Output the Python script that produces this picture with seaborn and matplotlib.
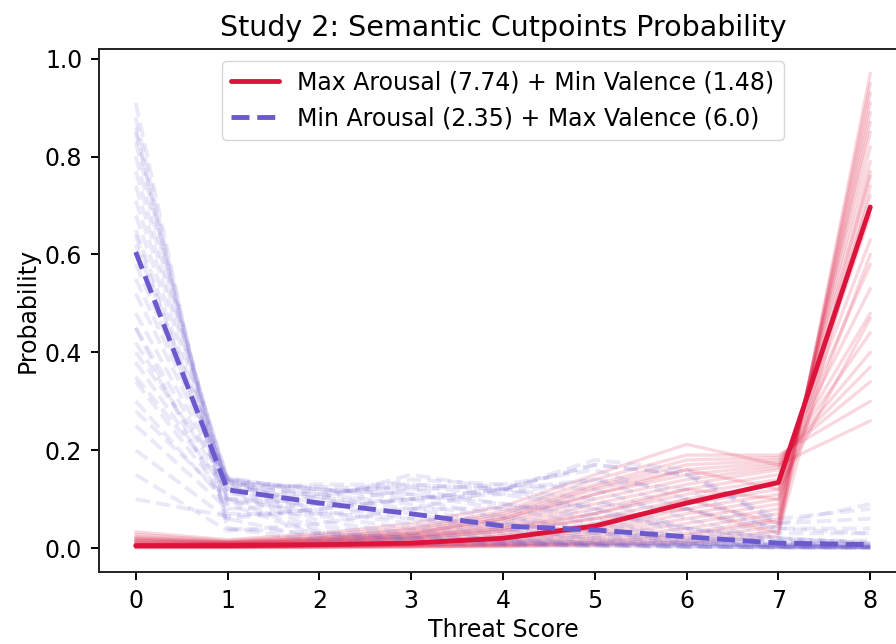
import pandas as pd
import matplotlib
matplotlib.use('Agg')
import matplotlib.pyplot as plt
import seaborn as sns

scores = [0, 1, 2, 3, 4, 5, 6, 7, 8]

# posterior mean curves
red_mean = [0.005, 0.005, 0.007, 0.010, 0.020, 0.045, 0.092, 0.134, 0.697]
blue_mean = [0.605, 0.119, 0.092, 0.070, 0.045, 0.037, 0.023, 0.010, 0.007]

red_label = 'Max Arousal (7.74) + Min Valence (1.48)'
blue_label = 'Min Arousal (2.35) + Max Valence (6.0)'

# individual posterior draws (faint lines)
red_draws = [
    [0.001, 0.001, 0.001, 0.002, 0.003, 0.005, 0.008, 0.025, 0.97],
    [0.001, 0.001, 0.002, 0.003, 0.004, 0.007, 0.012, 0.035, 0.95],
    [0.002, 0.002, 0.002, 0.003, 0.005, 0.009, 0.018, 0.045, 0.93],
    [0.002, 0.002, 0.003, 0.004, 0.006, 0.012, 0.025, 0.055, 0.91],
    [0.002, 0.002, 0.003, 0.005, 0.008, 0.015, 0.03, 0.06, 0.89],
    [0.003, 0.003, 0.004, 0.006, 0.01, 0.02, 0.04, 0.07, 0.87],
    [0.003, 0.003, 0.005, 0.007, 0.012, 0.025, 0.05, 0.08, 0.85],
    [0.004, 0.004, 0.005, 0.008, 0.015, 0.03, 0.06, 0.09, 0.82],
    [0.004, 0.004, 0.006, 0.01, 0.018, 0.035, 0.07, 0.10, 0.79],
    [0.005, 0.004, 0.006, 0.01, 0.02, 0.04, 0.10, 0.05, 0.77],
    [0.005, 0.005, 0.007, 0.01, 0.02, 0.04, 0.08, 0.11, 0.76],
    [0.01, 0.008, 0.012, 0.02, 0.035, 0.06, 0.08, 0.03, 0.74],
    [0.006, 0.005, 0.008, 0.012, 0.025, 0.05, 0.09, 0.12, 0.72],
    [0.007, 0.006, 0.009, 0.015, 0.03, 0.06, 0.10, 0.13, 0.68],
    [0.008, 0.006, 0.01, 0.018, 0.035, 0.07, 0.11, 0.14, 0.63],
    [0.015, 0.01, 0.015, 0.025, 0.04, 0.07, 0.12, 0.10, 0.60],
    [0.01, 0.007, 0.012, 0.02, 0.04, 0.08, 0.12, 0.15, 0.58],
    [0.012, 0.008, 0.013, 0.022, 0.045, 0.09, 0.13, 0.16, 0.53],
    [0.014, 0.009, 0.015, 0.025, 0.05, 0.10, 0.14, 0.165, 0.48],
    [0.02, 0.012, 0.02, 0.03, 0.06, 0.11, 0.16, 0.12, 0.47],
    [0.016, 0.01, 0.016, 0.028, 0.055, 0.11, 0.15, 0.17, 0.44],
    [0.018, 0.011, 0.018, 0.03, 0.06, 0.12, 0.16, 0.175, 0.40],
    [0.021, 0.012, 0.02, 0.035, 0.065, 0.125, 0.17, 0.18, 0.37],
    [0.024, 0.013, 0.022, 0.038, 0.07, 0.13, 0.18, 0.185, 0.34],
    [0.028, 0.015, 0.026, 0.042, 0.075, 0.14, 0.19, 0.19, 0.30],
    [0.033, 0.017, 0.03, 0.05, 0.085, 0.15, 0.212, 0.17, 0.26],
]

blue_draws = [
    [0.91, 0.04, 0.015, 0.01, 0.006, 0.004, 0.002, 0.002, 0.001],
    [0.88, 0.06, 0.02, 0.012, 0.008, 0.005, 0.003, 0.001, 0.001],
    [0.86, 0.04, 0.03, 0.02, 0.015, 0.01, 0.01, 0.008, 0.007],
    [0.85, 0.09, 0.025, 0.015, 0.01, 0.005, 0.003, 0.001, 0.001],
    [0.83, 0.10, 0.03, 0.018, 0.01, 0.006, 0.003, 0.002, 0.001],
    [0.80, 0.12, 0.035, 0.02, 0.012, 0.008, 0.003, 0.001, 0.001],
    [0.77, 0.13, 0.045, 0.025, 0.015, 0.008, 0.004, 0.002, 0.001],
    [0.74, 0.14, 0.055, 0.03, 0.017, 0.01, 0.005, 0.002, 0.001],
    [0.71, 0.145, 0.065, 0.04, 0.02, 0.012, 0.005, 0.002, 0.001],
    [0.68, 0.14, 0.075, 0.05, 0.027, 0.015, 0.008, 0.003, 0.002],
    [0.65, 0.13, 0.09, 0.06, 0.035, 0.02, 0.01, 0.004, 0.002],
    [0.64, 0.10, 0.07, 0.06, 0.05, 0.03, 0.02, 0.015, 0.015],
    [0.62, 0.135, 0.10, 0.07, 0.04, 0.02, 0.01, 0.004, 0.002],
    [0.58, 0.14, 0.105, 0.08, 0.05, 0.03, 0.01, 0.004, 0.002],
    [0.55, 0.145, 0.11, 0.09, 0.06, 0.035, 0.012, 0.005, 0.003],
    [0.52, 0.14, 0.12, 0.10, 0.065, 0.04, 0.015, 0.005, 0.003],
    [0.48, 0.135, 0.12, 0.11, 0.08, 0.05, 0.02, 0.005, 0.003],
    [0.45, 0.13, 0.125, 0.12, 0.09, 0.06, 0.02, 0.006, 0.004],
    [0.45, 0.07, 0.07, 0.08, 0.08, 0.09, 0.08, 0.04, 0.04],
    [0.42, 0.12, 0.115, 0.125, 0.11, 0.08, 0.03, 0.01, 0.005],
    [0.40, 0.14, 0.12, 0.11, 0.09, 0.07, 0.04, 0.02, 0.01],
    [0.38, 0.11, 0.11, 0.13, 0.12, 0.10, 0.04, 0.01, 0.006],
    [0.35, 0.12, 0.13, 0.13, 0.12, 0.08, 0.04, 0.02, 0.01],
    [0.34, 0.10, 0.105, 0.14, 0.13, 0.12, 0.06, 0.012, 0.008],
    [0.30, 0.09, 0.10, 0.15, 0.12, 0.14, 0.08, 0.02, 0.01],
    [0.28, 0.10, 0.09, 0.10, 0.11, 0.14, 0.12, 0.03, 0.03],
    [0.25, 0.08, 0.09, 0.12, 0.13, 0.16, 0.10, 0.04, 0.03],
    [0.20, 0.06, 0.08, 0.10, 0.12, 0.17, 0.15, 0.05, 0.06],
    [0.15, 0.035, 0.05, 0.08, 0.12, 0.18, 0.16, 0.05, 0.09],
    [0.10, 0.065, 0.08, 0.10, 0.12, 0.17, 0.15, 0.06, 0.08],
]


def long_form(draws):
    rows = []
    for i, d in enumerate(draws):
        for s, p in zip(scores, d):
            rows.append({'draw': i, 'score': s, 'prob': p})
    return pd.DataFrame(rows)


sns.set_style('ticks')
plt.rcParams['font.family'] = ['DejaVu Sans']
plt.rcParams['text.color'] = 'black'
plt.rcParams['axes.labelcolor'] = 'black'
plt.rcParams['xtick.color'] = 'black'
plt.rcParams['ytick.color'] = 'black'
plt.rcParams['axes.edgecolor'] = '#222222'

fig = plt.figure(figsize=(8.96, 6.44), dpi=100)
ax = fig.add_axes([99 / 896, 72 / 644, 808 / 896, 523 / 644])

red_df = long_form(red_draws)
blue_df = long_form(blue_draws)

sns.lineplot(data=red_df, x='score', y='prob', units='draw', estimator=None,
             color='crimson', alpha=0.16, lw=2.4, ax=ax)
sns.lineplot(data=blue_df, x='score', y='prob', units='draw', estimator=None,
             color='slateblue', alpha=0.13, lw=2.8, ls='--', ax=ax)

sns.lineplot(x=scores, y=red_mean, color='crimson', lw=3.5, label=red_label, ax=ax)
sns.lineplot(x=scores, y=blue_mean, color='slateblue', lw=3.5, ls='--',
             label=blue_label, ax=ax)

ax.set_xlim(-0.4, 8.4)
ax.set_ylim(-0.049, 1.02)
ax.set_xticks(scores)
ax.set_yticks([0.0, 0.2, 0.4, 0.6, 0.8, 1.0])
ax.tick_params(labelsize=17, length=6, width=1.4, pad=6)
for s in ax.spines.values():
    s.set_linewidth(1.4)

ax.set_xlabel('Threat Score', fontsize=17)
ax.set_ylabel('Probability', fontsize=17)
ax.set_title('Study 2: Semantic Cutpoints Probability', fontsize=20.5, pad=9)

ax.legend(loc='upper center', fontsize=17, frameon=True, fancybox=True,
          framealpha=0.8, edgecolor='#cccccc', borderpad=0.4, labelspacing=0.5)

fig.savefig('out.png', dpi=100)
